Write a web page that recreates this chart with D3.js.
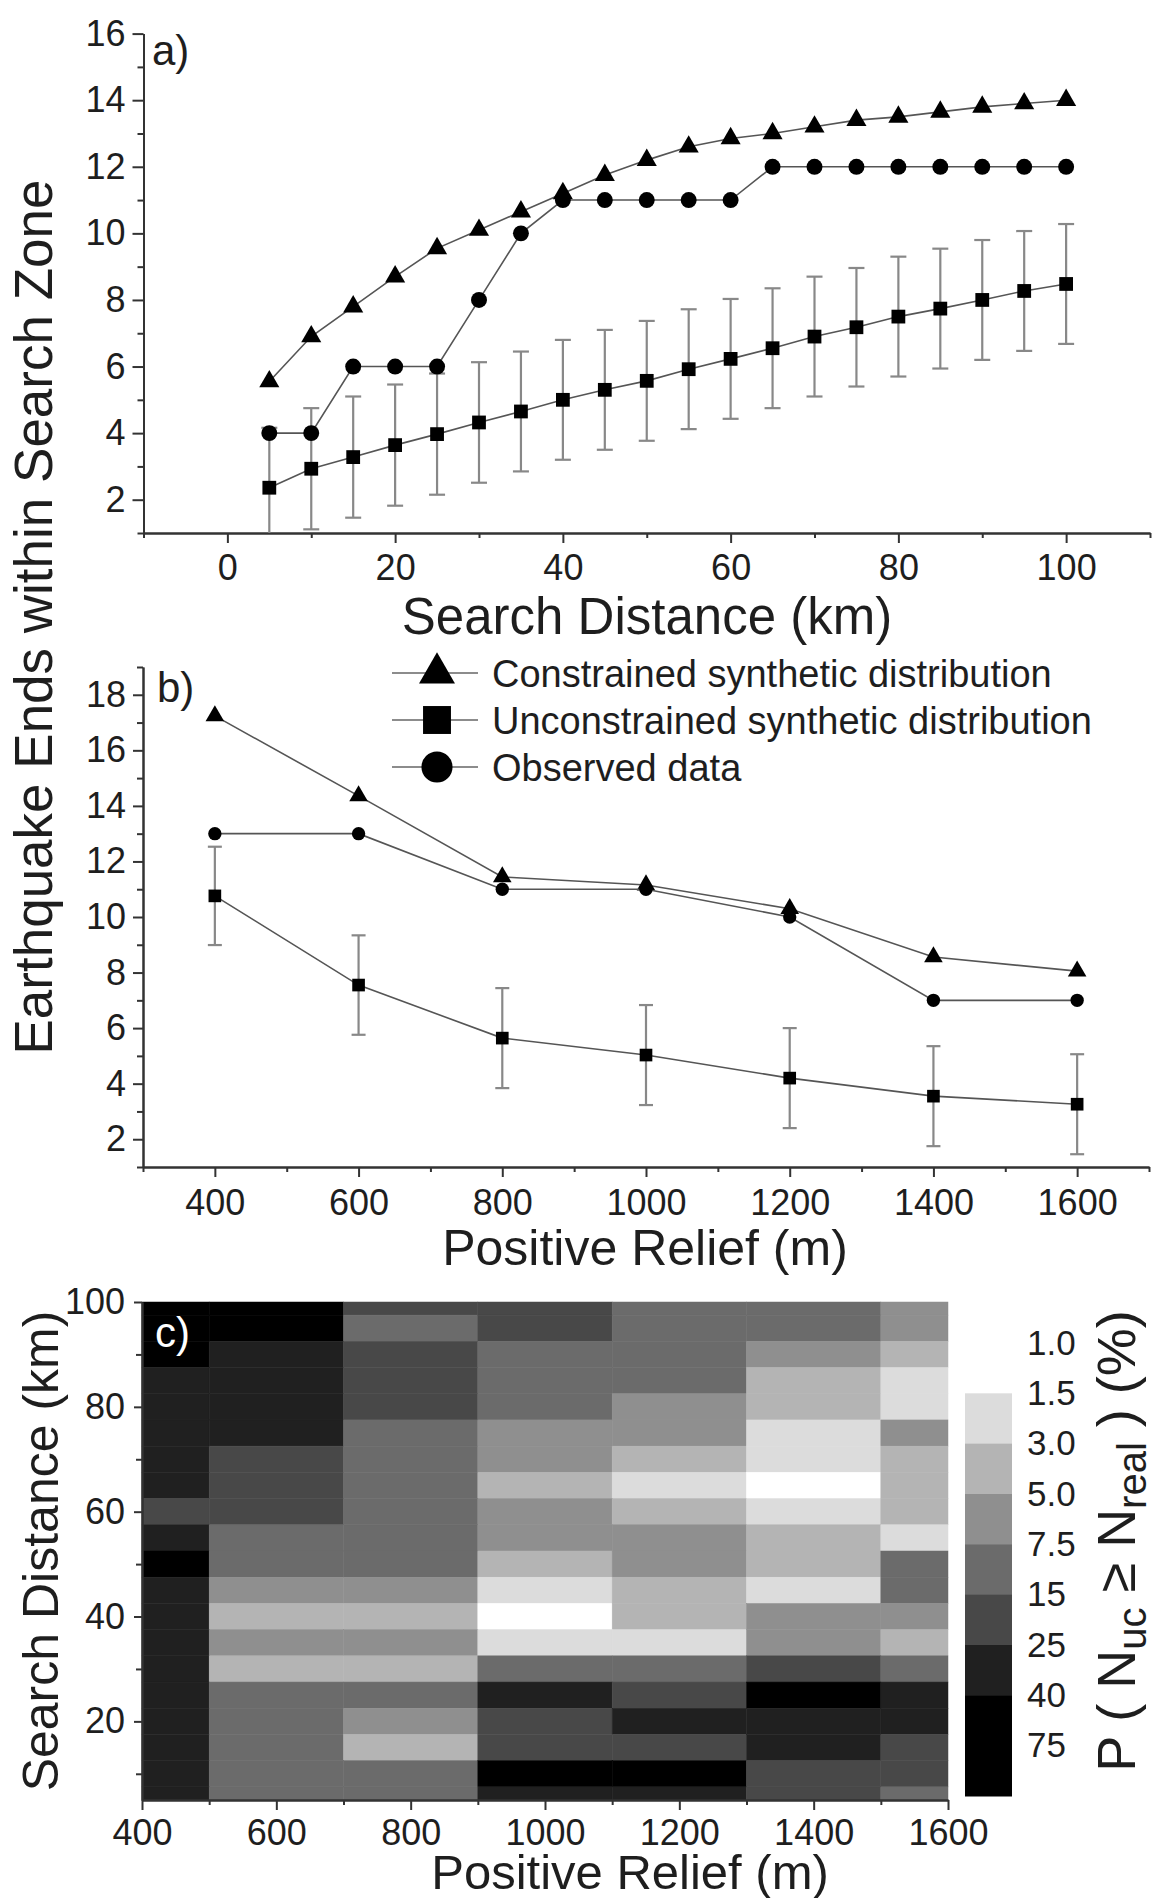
<!DOCTYPE html>
<html>
<head>
  <meta charset="utf-8">
  <script src="https://d3js.org/d3.v7.min.js"></script>
  <style>
    body { margin: 0; background: #fff; }
    svg { display: block; background: #fff; }
    text { font-family: "Liberation Sans", Arial, sans-serif; fill: #1e1e1e; white-space: pre; }
    .axis path, .axis line { stroke: #333; stroke-width: 2; }
    .axis text { font-size: 36px; fill: #1e1e1e; font-family: "Liberation Sans", Arial, sans-serif; }
    .series { fill: none; stroke: #555; stroke-width: 1.6; }
    .err { stroke: #888; stroke-width: 2.2; }
  </style>
</head>
<body>
<svg width="1157" height="1898"></svg>
<script>
// panel a: search distance
var distA = [5, 10, 15, 20, 25, 30, 35, 40, 45, 50, 55, 60, 65, 70, 75, 80, 85, 90, 95, 100];
var constrainedA = [5.55, 6.9, 7.8, 8.7, 9.55, 10.1, 10.65, 11.2, 11.75, 12.2, 12.6, 12.85, 13.0, 13.2, 13.4, 13.5, 13.65, 13.8, 13.9, 14.0];
var observedA = [4, 4, 6, 6, 6, 8, 10, 11, 11, 11, 11, 11, 12, 12, 12, 12, 12, 12, 12, 12];
var unconstrainedA = [2.36, 2.93, 3.28, 3.64, 3.97, 4.32, 4.65, 5.0, 5.3, 5.57, 5.92, 6.23, 6.55, 6.9, 7.18, 7.5, 7.74, 8.0, 8.27, 8.48];
var errA = [1.8, 1.82, 1.82, 1.82, 1.82, 1.81, 1.8, 1.8, 1.8, 1.8, 1.8, 1.8, 1.8, 1.8, 1.78, 1.8, 1.8, 1.8, 1.8, 1.8];

// panel b: positive relief
var reliefB = [400, 600, 800, 1000, 1200, 1400, 1600];
var constrainedB = [17.24, 14.36, 11.44, 11.15, 10.3, 8.56, 8.05];
var observedB = [13, 13, 11, 11, 10, 7, 7];
var unconstrainedB = [10.76, 7.55, 5.64, 5.03, 4.2, 3.55, 3.26];
var errB = [1.77, 1.79, 1.8, 1.8, 1.8, 1.8, 1.8];

// panel c: P(Nuc >= Nreal) in %, rows = search distance bins, cols = relief
var reliefC = [400, 600, 800, 1000, 1200, 1400, 1600];
var distC = [100, 95, 90, 85, 80, 75, 70, 65, 60, 55, 50, 45, 40, 35, 30, 25, 20, 15, 10, 5];
var probC = [
  [50, 50, 20, 20, 10, 10, 6],
  [50, 50, 10, 20, 10, 10, 6],
  [50, 30, 20, 10, 10, 6, 4],
  [30, 30, 20, 10, 10, 4, 2],
  [30, 30, 20, 10, 6, 4, 2],
  [30, 30, 10, 6, 6, 2, 6],
  [30, 20, 10, 6, 4, 2, 4],
  [30, 20, 10, 4, 2, 1.2, 4],
  [20, 20, 10, 6, 4, 2, 4],
  [30, 10, 10, 6, 6, 4, 2],
  [50, 10, 10, 4, 6, 4, 10],
  [30, 6, 6, 2, 4, 2, 10],
  [30, 4, 4, 1.2, 4, 6, 6],
  [30, 6, 6, 2, 2, 6, 4],
  [30, 4, 4, 10, 10, 20, 10],
  [30, 10, 10, 30, 20, 50, 30],
  [30, 10, 6, 20, 30, 30, 30],
  [30, 10, 4, 20, 20, 30, 20],
  [30, 10, 10, 50, 50, 20, 20],
  [30, 10, 10, 30, 30, 20, 10]
];
var levelBounds = [1.0, 1.5, 3.0, 5.0, 7.5, 15, 25, 40, 75, 100];
var levelLabels = ["1.0", "1.5", "3.0", "5.0", "7.5", "15", "25", "40", "75"];
var levelGreys = ["#ffffff", "#dcdcdc", "#b4b4b4", "#8f8f8f", "#6b6b6b", "#484848", "#202020", "#000000", "#000000"];

// ticks
var ticksA_x = [0, 20, 40, 60, 80, 100], minorA_x = [-10, 10, 30, 50, 70, 90, 110];
var ticksA_y = [2, 4, 6, 8, 10, 12, 14, 16], minorA_y = [1, 3, 5, 7, 9, 11, 13, 15];
var ticksB_x = [400, 600, 800, 1000, 1200, 1400, 1600], minorB_x = [300, 500, 700, 900, 1100, 1300, 1500, 1700];
var ticksB_y = [2, 4, 6, 8, 10, 12, 14, 16, 18], minorB_y = [1, 3, 5, 7, 9, 11, 13, 15, 17, 19];
var ticksC_x = [400, 600, 800, 1000, 1200, 1400, 1600], minorC_x = [500, 700, 900, 1100, 1300, 1500];
var ticksC_y = [20, 40, 60, 80, 100], minorC_y = [10, 30, 50, 70, 90];

var svg = d3.select("svg");

var xA = d3.scaleLinear().domain([-10, 110]).range([143.5, 1150]);
var yA = d3.scaleLinear().domain([1, 16]).range([533, 33.6]);
var xB = d3.scaleLinear().domain([300, 1700]).range([143, 1149]);
var yB = d3.scaleLinear().domain([1, 19]).range([1167, 667]);
var xC = d3.scaleLinear().domain([400, 1600]).range([142, 948]);
var yC = d3.scaleLinear().domain([5, 100]).range([1800, 1302]);

var triangle = function(area) { return d3.symbol().type(d3.symbolTriangle).size(area)(); };
var square = function(area) { return d3.symbol().type(d3.symbolSquare).size(area)(); };
var circle = function(area) { return d3.symbol().type(d3.symbolCircle).size(area)(); };

function axes(x, y, tx, mx, ty, my, ySize, yPad, xPad) {
  var g = svg.append("g");
  var y0 = y.range()[0], x0 = x.range()[0];
  g.append("g").attr("class", "axis").attr("transform", "translate(0," + y0 + ")")
    .call(d3.axisBottom(x).tickValues(mx).tickSize(5).tickSizeOuter(0).tickFormat(""));
  g.append("g").attr("class", "axis").attr("transform", "translate(0," + y0 + ")")
    .call(d3.axisBottom(x).tickValues(tx).tickSize(10).tickSizeOuter(0).tickPadding(xPad).tickFormat(d3.format("d")));
  g.append("g").attr("class", "axis").attr("transform", "translate(" + x0 + ",0)")
    .call(d3.axisLeft(y).tickValues(my).tickSize(6).tickSizeOuter(0).tickFormat(""));
  g.append("g").attr("class", "axis").attr("transform", "translate(" + x0 + ",0)")
    .call(d3.axisLeft(y).tickValues(ty).tickSize(ySize).tickSizeOuter(0).tickPadding(yPad).tickFormat(d3.format("d")));
}

function lineChart(xs, x, y, series, errs, sizes) {
  var g = svg.append("g");
  var lo = y.domain()[0];
  // error bars on the unconstrained series
  var u = series[1];
  xs.forEach(function(d, i) {
    var top = u[i] + errs[i], bot = Math.max(lo, u[i] - errs[i]);
    g.append("line").attr("class", "err")
      .attr("x1", x(d)).attr("x2", x(d)).attr("y1", y(top)).attr("y2", y(bot));
    g.append("line").attr("class", "err")
      .attr("x1", x(d) - sizes.cap).attr("x2", x(d) + sizes.cap).attr("y1", y(top)).attr("y2", y(top));
    if (u[i] - errs[i] > lo) {
      g.append("line").attr("class", "err")
        .attr("x1", x(d) - sizes.cap).attr("x2", x(d) + sizes.cap).attr("y1", y(bot)).attr("y2", y(bot));
    }
  });
  var shapes = [triangle(sizes.tri), square(sizes.sq), circle(sizes.ci)];
  series.forEach(function(vals, k) {
    var pts = xs.map(function(d, i) { return [x(d), y(vals[i])]; });
    g.append("path").attr("class", "series").attr("d", d3.line()(pts));
    g.selectAll(null).data(pts).enter().append("path")
      .attr("d", shapes[k])
      .attr("transform", function(p) { return "translate(" + p[0] + "," + p[1] + ")"; })
      .attr("fill", "#000");
  });
}

// ---- panel a
axes(xA, yA, ticksA_x, minorA_x, ticksA_y, minorA_y, 11, 7, 11);
lineChart(distA, xA, yA, [constrainedA, unconstrainedA, observedA], errA, {tri: 175, sq: 190, ci: 200, cap: 8});
svg.append("text").attr("x", 152).attr("y", 65).style("font-size", "42px").text("a)");
svg.append("text").attr("x", 647).attr("y", 634).attr("text-anchor", "middle")
  .style("font-size", "51px").text("Search Distance (km)");

// ---- panel b
axes(xB, yB, ticksB_x, minorB_x, ticksB_y, minorB_y, 10, 7, 12);
lineChart(reliefB, xB, yB, [constrainedB, unconstrainedB, observedB], errB, {tri: 150, sq: 160, ci: 140, cap: 7});
svg.append("text").attr("x", 157).attr("y", 702).style("font-size", "42px").text("b)");
svg.append("text").attr("x", 645).attr("y", 1265).attr("text-anchor", "middle")
  .style("font-size", "50px").text("Positive Relief (m)");

// shared y title
svg.append("text").attr("transform", "translate(52,617) rotate(-90)").attr("text-anchor", "middle")
  .style("font-size", "53px").text("Earthquake Ends within Search Zone");

// legend
var legendNames = ["Constrained synthetic distribution", "Unconstrained synthetic distribution", "Observed data"];
var legendShapes = [triangle(560), square(780), circle(760)];
legendNames.forEach(function(name, i) {
  var cy = 673 + i * 47;
  svg.append("line").attr("x1", 392).attr("x2", 478).attr("y1", cy).attr("y2", cy)
    .attr("stroke", "#666").attr("stroke-width", 1.6);
  svg.append("path").attr("d", legendShapes[i]).attr("transform", "translate(437," + cy + ")").attr("fill", "#000");
  svg.append("text").attr("x", 492).attr("y", cy + 14).style("font-size", "38px").text(name);
});

// ---- panel c
var grey = d3.scaleThreshold().domain(levelBounds.slice(1, 9)).range(levelGreys);
var cells = [];
distC.forEach(function(r, i) {
  reliefC.forEach(function(c, j) {
    cells.push({r: r, c: c, p: probC[i][j]});
  });
});
svg.append("g").selectAll("rect").data(cells).enter().append("rect")
  .attr("x", function(d) { return xC(Math.max(400, d.c - 100)); })
  .attr("width", function(d) { return xC(Math.min(1600, d.c + 100)) - xC(Math.max(400, d.c - 100)); })
  .attr("y", function(d) { return yC(Math.min(100, d.r + 2.5)); })
  .attr("height", function(d) { return yC(Math.max(5, d.r - 2.5)) - yC(Math.min(100, d.r + 2.5)); })
  .attr("fill", function(d) { return grey(d.p); })
  .attr("stroke", function(d) { return grey(d.p); })
  .attr("stroke-width", 0.5);
axes(xC, yC, ticksC_x, minorC_x, ticksC_y, minorC_y, 8, 9, 9);
svg.append("text").attr("x", 155).attr("y", 1347).style("font-size", "42px").style("fill", "#fff").text("c)");
svg.append("text").attr("x", 630).attr("y", 1889).attr("text-anchor", "middle")
  .style("font-size", "49px").text("Positive Relief (m)");
svg.append("text").attr("transform", "translate(58,1551) rotate(-90)").attr("text-anchor", "middle")
  .style("font-size", "50px").text("Search Distance (km)");

// colour bar
var cbY = d3.scaleLinear().domain([0, 9]).range([1343, 1796]);
svg.append("g").selectAll("rect").data(levelGreys).enter().append("rect")
  .attr("x", 965).attr("width", 47)
  .attr("y", function(d, i) { return cbY(i); })
  .attr("height", function(d, i) { return cbY(i + 1) - cbY(i) + 0.5; })
  .attr("fill", function(d) { return d; });
svg.append("g").attr("class", "axis cb").attr("transform", "translate(1027,0)")
  .call(d3.axisRight(cbY).tickValues(d3.range(levelLabels.length)).tickSize(0).tickPadding(0)
    .tickFormat(function(i) { return levelLabels[i]; }))
  .call(function(g) { g.select(".domain").remove(); })
  .selectAll("text").style("font-size", "35px");

var cbTitle = svg.append("text").attr("transform", "translate(1135,1541) rotate(-90)")
  .attr("text-anchor", "middle").style("font-size", "54px");
cbTitle.append("tspan").text("P ( N");
cbTitle.append("tspan").attr("dy", 11).style("font-size", "40px").text("uc");
cbTitle.append("tspan").attr("dy", -11).text(" \u2265 N");
cbTitle.append("tspan").attr("dy", 11).style("font-size", "40px").text("real");
cbTitle.append("tspan").attr("dy", -11).text(" ) (%)");
</script>
</body>
</html>
